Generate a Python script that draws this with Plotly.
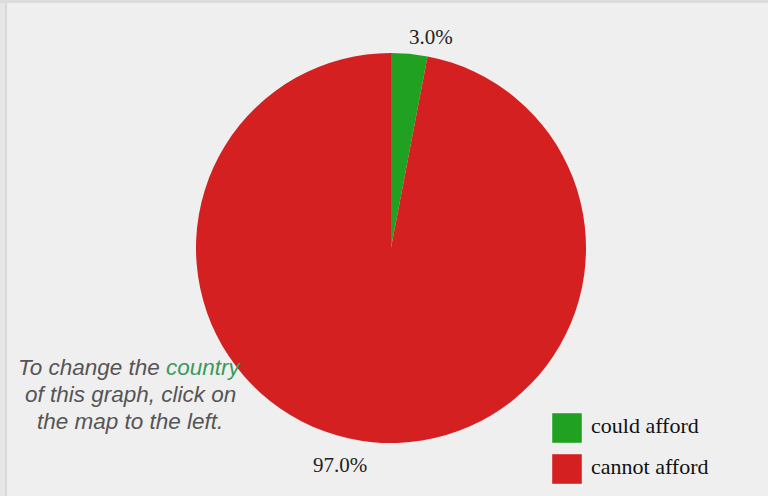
import plotly.graph_objects as go

# Share of households that could / could not afford the item
labels = ["could afford", "cannot afford"]
values = [3.0, 97.0]
colors = ["#21a121", "#d42020"]

W, H = 768, 496
BG = "#efefef"

# Pie placement in pixels (centre and radius)
cx, cy, r = 391, 248, 195

fig = go.Figure(
    go.Pie(
        labels=labels,
        values=values,
        sort=False,
        direction="clockwise",
        rotation=0,
        marker=dict(colors=colors, line=dict(width=0)),
        textinfo="none",
        hoverinfo="label+percent",
        showlegend=False,
        domain=dict(
            x=[(cx - r) / W, (cx + r) / W],
            y=[(H - cy - r) / H, (H - cy + r) / H],
        ),
    )
)

total = sum(values)
pct_text = [f"{v / total * 100:.1f}%" for v in values]

serif = "Liberation Serif, Times New Roman, serif"
annotations = []

# Percentage labels outside the slices
pct_pos = [(431, 37), (340, 465)]
for txt, (px, py) in zip(pct_text, pct_pos):
    annotations.append(dict(
        x=px / W, y=1 - py / H, xref="paper", yref="paper",
        text=txt, showarrow=False, xanchor="center", yanchor="middle",
        font=dict(family=serif, size=21, color="#222222"),
    ))

# Legend: coloured squares with labels
shapes = []
leg_top = [413, 454]
for lab, col, top in zip(labels, colors, leg_top):
    shapes.append(dict(
        type="rect", xref="paper", yref="paper",
        x0=552 / W, x1=582 / W, y0=1 - (top + 30) / H, y1=1 - top / H,
        fillcolor=col, line=dict(width=0.8, color="rgba(255,255,255,0.5)"),
    ))
    annotations.append(dict(
        x=589 / W, y=1 - (top + 12) / H, xref="paper", yref="paper",
        text=lab, showarrow=False, xanchor="left", yanchor="middle",
        font=dict(family=serif, size=22, color="#111111"),
    ))

# Hint text in the lower-left corner
hint_lines = [
    "To change the <span style='color:#3a9a5c'>country</span>",
    "of this graph, click on",
    "the map to the left.",
]
for i, line in enumerate(hint_lines):
    annotations.append(dict(
        x=130 / W, y=1 - (367 + 27 * i) / H, xref="paper", yref="paper",
        text=f"<i>{line}</i>", showarrow=False, xanchor="center", yanchor="middle",
        font=dict(family="Liberation Sans, Arial, sans-serif", size=22.5, color="#555555"),
    ))

# Frame edges along the top and left
shapes += [
    dict(type="rect", xref="paper", yref="paper", x0=0, x1=5 / W, y0=0, y1=1,
         fillcolor="#e6e6e6", line=dict(width=0), layer="below"),
    dict(type="rect", xref="paper", yref="paper", x0=5 / W, x1=7 / W, y0=0, y1=1,
         fillcolor="#d9d9d9", line=dict(width=0), layer="below"),
    dict(type="rect", xref="paper", yref="paper", x0=0, x1=1, y0=1 - 3 / H, y1=1,
         fillcolor="#dcdcdc", line=dict(width=0), layer="below"),
]

fig.update_layout(
    width=W, height=H,
    margin=dict(l=0, r=0, t=0, b=0),
    paper_bgcolor=BG, plot_bgcolor=BG,
    annotations=annotations,
    shapes=shapes,
)

fig.write_html("out.html", config={"displayModeBar": False})
